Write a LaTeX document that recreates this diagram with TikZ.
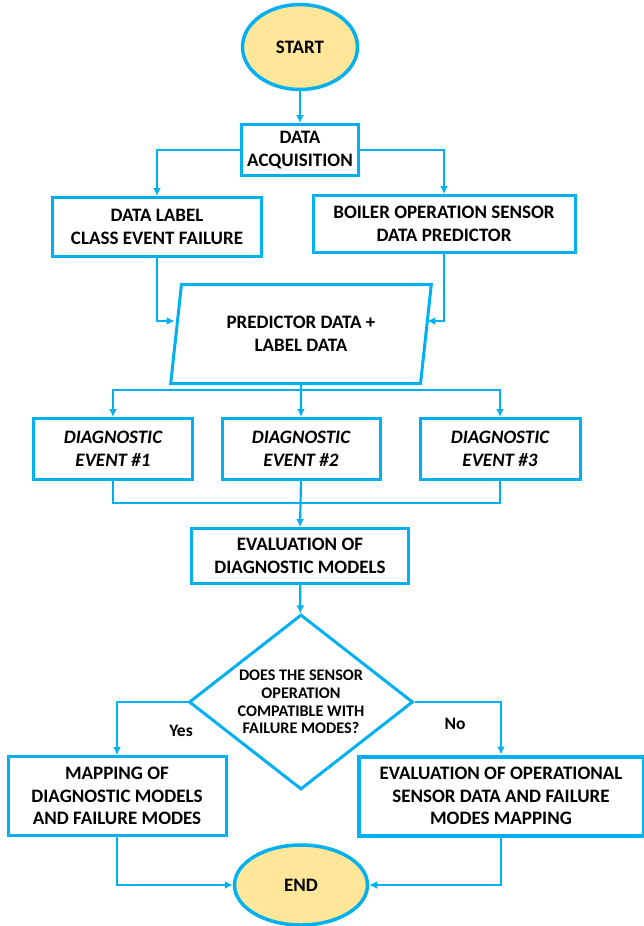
\documentclass[tikz,border=0pt]{standalone}
\usepackage{fontspec}
\setmainfont{Carlito}
\usetikzlibrary{shapes.geometric,arrows.meta}
\definecolor{flowblue}{HTML}{00B0F0}
\definecolor{termfill}{HTML}{FFE699}

\begin{document}
\begin{tikzpicture}[x=1pt,y=-1pt,
    box/.style={draw=flowblue,line width=3pt,fill=white,align=center,inner sep=2pt,
      font=\fontsize{19}{22.5}\selectfont\bfseries},
    term/.style={ellipse,draw=flowblue,line width=3.5pt,fill=termfill,inner sep=0pt,
      font=\fontsize{19}{22.5}\selectfont\bfseries},
    link/.style={draw=flowblue,line width=2.2pt,-{Latex[length=8pt,width=8pt]}},
    plain/.style={draw=flowblue,line width=2.2pt}]
  \useasboundingbox (0,0) rectangle (643,926);

  % terminals and process boxes
  \node[term,minimum width=115pt,minimum height=85pt] (start) at (300,47) {START};
  \node[box,minimum width=117pt,minimum height=51pt] (acq) at (300,150) {DATA\\ACQUISITION};
  \node[box,minimum width=209pt,minimum height=59pt] (lbl) at (157,227) {DATA LABEL\\CLASS EVENT FAILURE};
  \node[box,minimum width=262pt,minimum height=57pt] (sens) at (444,224) {BOILER OPERATION SENSOR\\DATA PREDICTOR};
  \node[box,trapezium,trapezium left angle=80,trapezium right angle=100,trapezium stretches=true,
        minimum width=261pt,minimum height=99pt] (pred) at (301,334) {PREDICTOR DATA +\\LABEL DATA};
  \node[box,minimum width=159pt,minimum height=61pt,font=\fontsize{19}{22.5}\selectfont\bfseries\itshape] (ev1) at (113,449) {DIAGNOSTIC\\EVENT \#1};
  \node[box,minimum width=158pt,minimum height=61pt,font=\fontsize{19}{22.5}\selectfont\bfseries\itshape] (ev2) at (301,449) {DIAGNOSTIC\\EVENT \#2};
  \node[box,minimum width=160pt,minimum height=61pt,font=\fontsize{19}{22.5}\selectfont\bfseries\itshape] (ev3) at (500,449) {DIAGNOSTIC\\EVENT \#3};
  \node[box,minimum width=217pt,minimum height=55pt] (evalm) at (300,556) {EVALUATION OF\\DIAGNOSTIC MODELS};

  % decision
  \node[diamond,draw=flowblue,line width=3pt,fill=white,inner sep=0pt,align=center,
        shape aspect=1.28,minimum width=224pt,minimum height=175pt,
        font=\fontsize{16.2}{17.8}\selectfont\bfseries] (ask) at (301,702)
        {DOES THE SENSOR\\OPERATION\\COMPATIBLE WITH\\FAILURE MODES?};
  \node[font=\fontsize{17.5}{20}\selectfont\bfseries] (yes) at (181,731) {Yes};
  \node[font=\fontsize{17.5}{20}\selectfont\bfseries] (no) at (455,724) {No};

  \node[box,minimum width=218pt,minimum height=79pt] (mapd) at (117,796) {MAPPING OF\\DIAGNOSTIC MODELS\\AND FAILURE MODES};
  \node[box,line width=4pt,minimum width=285pt,minimum height=79pt] (evops) at (501,796) {EVALUATION OF OPERATIONAL\\SENSOR DATA AND FAILURE\\MODES MAPPING};
  \node[term,minimum width=133pt,minimum height=80pt] (stop) at (301,885) {END};

  % connectors
  \coordinate (fan) at (300,390);
  \coordinate (join) at (300,503);
  \draw[link] (start) -- (acq);
  \draw[link] (acq.west) -| (lbl.north);
  \draw[link] (acq.east) -| (sens.north);
  \draw[link] (lbl.south) |- ([yshift=13pt]pred.west);
  \draw[link] (sens.south) |- ([yshift=13pt]pred.east);
  \draw[link] (pred.south) -- (ev2.north);
  \draw[link] (fan) -| (ev1.north);
  \draw[link] (fan) -| (ev3.north);
  \draw[plain] (ev1.south) |- (join);
  \draw[plain] (ev3.south) |- (join);
  \draw[link] (ev2.south) -- (evalm.north);
  \draw[link] (evalm) -- (ask);
  \draw[link] (ask.west) -| (mapd.north);
  \draw[link] (ask.east) -| (evops.north);
  \draw[link] (mapd.south) |- (stop.west);
  \draw[link] (evops.south) |- (stop.east);
\end{tikzpicture}
\end{document}
